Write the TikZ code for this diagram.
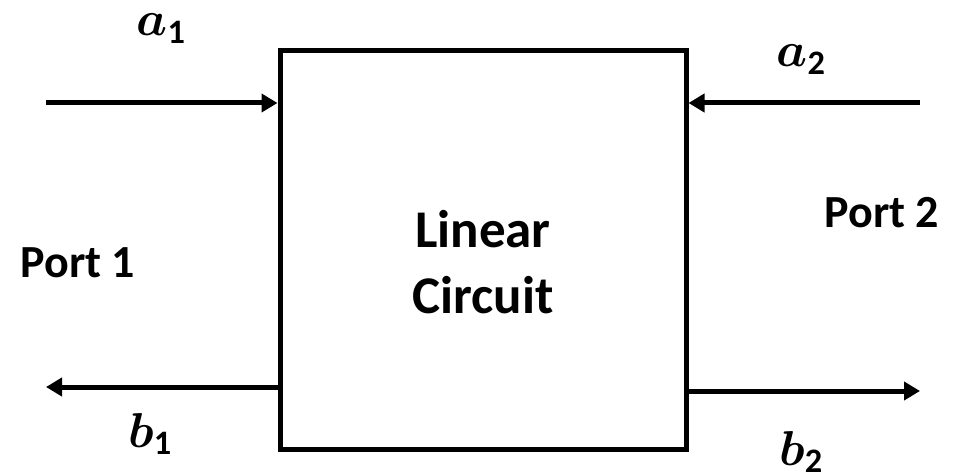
\RequirePackage{fix-cm}
\documentclass[tikz,border=0pt]{standalone}
\usepackage{amsmath}
\usepackage{fontspec}
\setmainfont{Carlito}
\usetikzlibrary{positioning,arrows.meta,calc}

\begin{document}
\begin{tikzpicture}[x=1pt,y=-1pt,
            box/.style={rectangle,draw=black,line width=5pt,
                        minimum width=406pt,minimum height=398pt,inner sep=0pt},
            arr/.style={-{Triangle[length=16pt,width=18pt]},black,line width=5pt},
            lbl/.style={anchor=base,inner sep=0pt,font=\fontsize{49}{58}\selectfont},
            port/.style={anchor=base,inner sep=0pt,font=\fontsize{46}{55}\selectfont\bfseries}]
            \useasboundingbox (0,0) rectangle (969,476);
            \node[box] (lc) at (483,250) {};
            \node[anchor=base,inner sep=0pt,align=center,
                  font=\fontsize{53}{66}\selectfont\bfseries] (lctxt) at (483,313) {Linear\\Circuit};
            % port signals
            \coordinate (a1s) at (46,103);
            \coordinate (a2s) at (920,103);
            \coordinate (b1e) at (46,387);
            \coordinate (b2e) at (920,391);
            \draw[arr] (a1s) -- (lc.west |- a1s);
            \draw[arr] (a2s) -- (lc.east |- a2s);
            \draw[arr] (lc.west |- b1e) -- (b1e);
            \draw[arr] (lc.east |- b2e) -- (b2e);
            \node[lbl] (a1) at (161,36) {$\boldsymbol{a}_{\mathbf{1}}$};
            \node[lbl] (a2) at (801,67) {$\boldsymbol{a}_{\mathbf{2}}$};
            \node[lbl] (b1) at (150,447) {$\boldsymbol{b}_{\mathbf{1}}$};
            \node[lbl] (b2) at (801,465) {$\boldsymbol{b}_{\mathbf{2}}$};
            \node[port] (p1) at (78,277) {Port 1};
            \node[port] (p2) at (882,227) {Port 2};
        \end{tikzpicture}
\end{document}
